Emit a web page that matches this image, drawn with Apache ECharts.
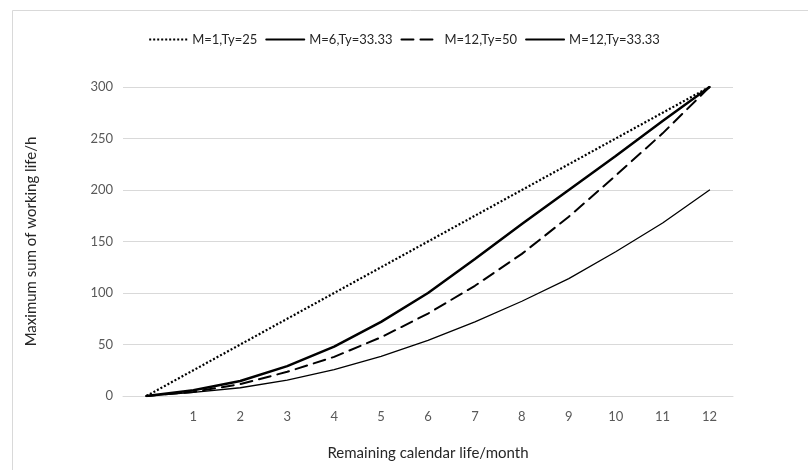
<!DOCTYPE html>
<html>
<head>
<meta charset="utf-8">
<script src="https://cdn.jsdelivr.net/npm/echarts@6/dist/echarts.min.js"></script>
<style>
  html, body { margin: 0; padding: 0; background: #fff; }
  #chart { width: 808px; height: 470px; }
</style>
</head>
<body>
<div id="chart"></div>
<script>
// categories (first one has no label, it is the origin)
const months = ["", "1", "2", "3", "4", "5", "6", "7", "8", "9", "10", "11", "12"];
const yTicks = { min: 0, max: 300, step: 50 };

const seriesNames = ["M=1,Ty=25", "M=6,Ty=33.33", "M=12,Ty=50", "M=12,Ty=33.33"];
const m1ty25 = [0, 25, 50, 75, 100, 125, 150, 175, 200, 225, 250, 275, 300];
const m6ty33 = [0, 5.5, 14.5, 29, 48, 72, 100, 133, 167, 200, 233, 267, 300];
const m12ty50 = [0, 4, 11.5, 23.5, 38, 57, 80, 107, 138, 174, 214, 255, 300];
const m12ty33 = [0, 3.5, 8, 15.5, 25.5, 38.5, 54, 72, 92, 114, 140, 168, 200];

const font = "Lato, 'Open Sans', sans-serif";

// 线型：点线 / 粗实线 / 虚线 / 细实线
function line(name, data, width, type, cap) {
  return {
    name: name,
    type: "line",
    data: data,
    symbol: "none",
    animation: false,
    lineStyle: { color: "#000", width: width, type: type, cap: cap || "round" },
    itemStyle: { color: "#000" },
  };
}

const option = {
  backgroundColor: "#fff",
  textStyle: { fontFamily: font },
  graphic: [
    {
      type: "rect",
      shape: { x: 12.5, y: 10.5, width: 900, height: 600 },
      style: { fill: "none", stroke: "#d9d9d9", lineWidth: 1 },
      silent: true,
    },
  ],
  legend: {
    top: 28,
    left: "center",
    itemWidth: 38,
    itemHeight: 10,
    itemGap: 8,
    // 图例只显示线，不显示圆点
    itemStyle: { opacity: 0 },
    textStyle: { fontFamily: font, fontSize: 13, color: "#262626" },
    data: seriesNames,
  },
  grid: { left: 123, right: 75, top: 87, bottom: 74 },
  xAxis: {
    type: "category",
    data: months,
    boundaryGap: true,
    name: "Remaining calendar life/month",
    nameLocation: "middle",
    nameGap: 50,
    nameTextStyle: { fontFamily: font, fontSize: 15, color: "#262626" },
    axisLine: { show: true, lineStyle: { color: "#d9d9d9", width: 1 } },
    axisTick: { show: false },
    axisLabel: { color: "#595959", fontSize: 13, fontFamily: font, margin: 14 },
    splitLine: { show: false },
  },
  yAxis: {
    type: "value",
    min: yTicks.min,
    max: yTicks.max,
    interval: yTicks.step,
    name: "Maximum sum of working life/h",
    nameLocation: "middle",
    nameGap: 84,
    nameTextStyle: { fontFamily: font, fontSize: 15, color: "#262626" },
    axisLine: { show: false },
    axisTick: { show: false },
    axisLabel: { color: "#595959", fontSize: 13, fontFamily: font, margin: 10 },
    splitLine: { lineStyle: { color: "#d9d9d9", width: 1 } },
  },
  series: [
    line(seriesNames[0], m1ty25, 2.2, [2, 2], "butt"),
    line(seriesNames[1], m6ty33, 2.5, "solid"),
    line(seriesNames[2], m12ty50, 2, [12, 7]),
    line(seriesNames[3], m12ty33, 1.3, "solid"),
  ],
};

const myChart = echarts.init(document.getElementById("chart"));
myChart.setOption(option);
</script>
</body>
</html>
